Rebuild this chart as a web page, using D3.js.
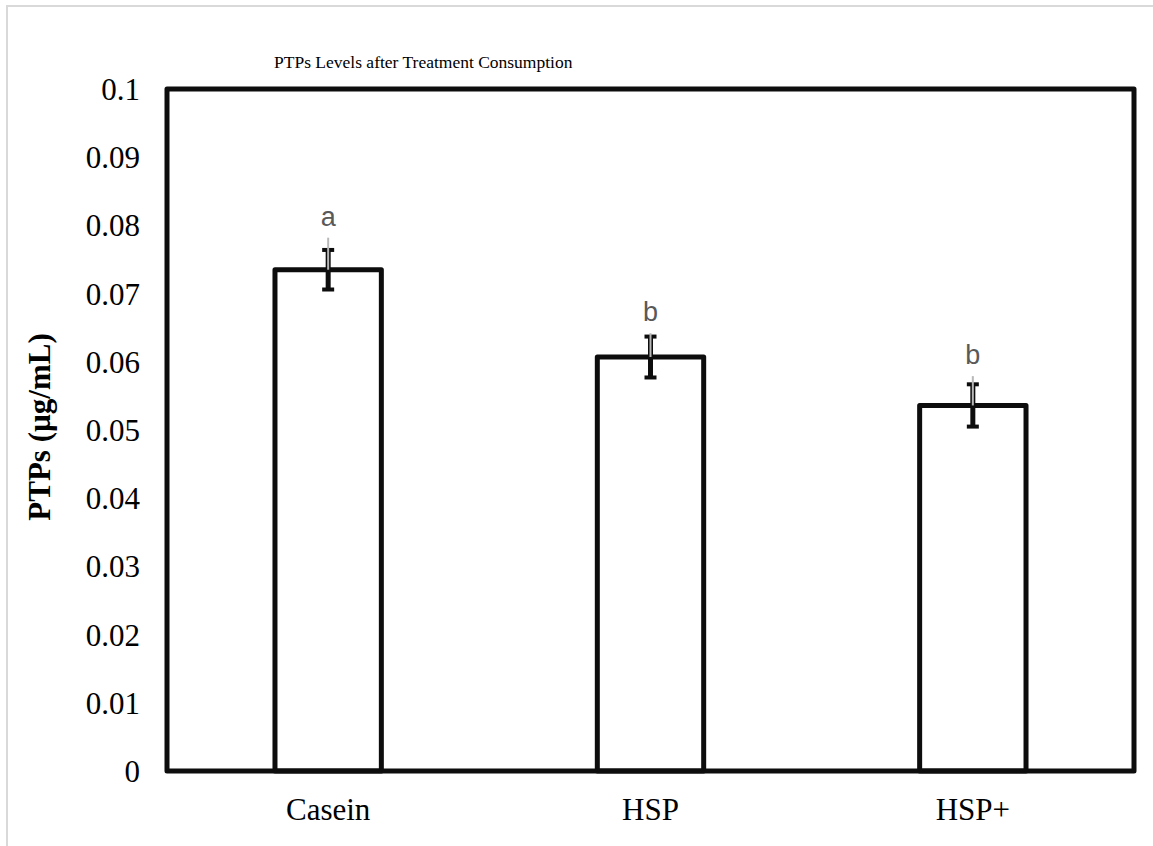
<!DOCTYPE html>
<html>
<head>
<meta charset="utf-8">
<script src="https://cdn.jsdelivr.net/npm/d3@7"></script>
<style>
  html, body { margin: 0; padding: 0; background: #fff; }
  svg { display: block; }
</style>
</head>
<body>
<svg id="chart" width="1153" height="846"></svg>
<script>
// ---- data ----
const categories = ["Casein", "HSP", "HSP+"];
const values = [0.0735, 0.0607, 0.0536];
const errors = [0.0029, 0.0030, 0.0031];
const grayErrTop = [0.0782, 0.0642, 0.0579];
const letters = ["a", "b", "b"];
const yTicks = [0, 0.01, 0.02, 0.03, 0.04, 0.05, 0.06, 0.07, 0.08, 0.09, 0.1];
const yTickLabels = ["0", "0.01", "0.02", "0.03", "0.04", "0.05", "0.06", "0.07", "0.08", "0.09", "0.1"];
const title = "PTPs Levels after Treatment Consumption";
const yTitle = "PTPs (µg/mL)";

// ---- layout ----
const svg = d3.select("#chart");
const plot = { left: 167, top: 89, right: 1134, bottom: 771 };
const serif = "'Liberation Serif', 'Times New Roman', serif";
const sans = "'Liberation Sans', Arial, sans-serif";

// outer light border
svg.append("rect")
  .attr("x", 7).attr("y", 6).attr("width", 1170).attr("height", 870)
  .attr("fill", "none").attr("stroke", "#d9d9d9").attr("stroke-width", 2);

const x = d3.scaleBand().domain(categories).range([plot.left, plot.right]).padding(0);
const y = d3.scaleLinear().domain([0, 0.1]).range([plot.bottom, plot.top]);
const barW = x.bandwidth() * 0.33;

// y axis tick labels via d3 axis
const yAxis = d3.axisLeft(y)
  .tickValues(yTicks)
  .tickFormat((d, i) => yTickLabels[i])
  .tickSize(0).tickPadding(27);
const gy = svg.append("g").attr("transform", `translate(${plot.left},0)`).call(yAxis);
gy.select(".domain").remove();
gy.selectAll("text")
  .attr("font-family", serif).attr("font-size", 31).attr("fill", "#000")
  .attr("dy", "0.34em");

// x axis labels
const xAxis = d3.axisBottom(x).tickSize(0).tickPadding(27);
const gx = svg.append("g").attr("transform", `translate(0,${plot.bottom})`).call(xAxis);
gx.select(".domain").remove();
gx.selectAll("text")
  .attr("font-family", serif).attr("font-size", 31).attr("fill", "#000");

// bars
const data = categories.map((c, i) => ({ c, v: values[i], e: errors[i], g: grayErrTop[i], l: letters[i] }));
svg.selectAll("rect.bar").data(data).enter().append("rect")
  .attr("class", "bar")
  .attr("x", d => x(d.c) + x.bandwidth() / 2 - barW / 2)
  .attr("y", d => y(d.v))
  .attr("width", barW)
  .attr("height", d => y(0) - y(d.v))
  .attr("fill", "#fff").attr("stroke", "#0d0d0d").attr("stroke-width", 5)
  .attr("stroke-linejoin", "round");

// plot frame
svg.append("rect")
  .attr("x", plot.left).attr("y", plot.top)
  .attr("width", plot.right - plot.left).attr("height", plot.bottom - plot.top)
  .attr("fill", "none").attr("stroke", "#0d0d0d").attr("stroke-width", 5)
  .attr("stroke-linejoin", "round");

// error bars
const eb = svg.selectAll("g.err").data(data).enter().append("g")
  .attr("transform", d => `translate(${x(d.c) + x.bandwidth() / 2},0)`);
eb.append("line")
  .attr("x1", 0).attr("x2", 0)
  .attr("y1", d => y(d.v + d.e)).attr("y2", d => y(d.v - d.e))
  .attr("stroke", "#0d0d0d").attr("stroke-width", 5);
eb.append("line")
  .attr("x1", -6).attr("x2", 6)
  .attr("y1", d => y(d.v + d.e)).attr("y2", d => y(d.v + d.e))
  .attr("stroke", "#0d0d0d").attr("stroke-width", 4);
eb.append("line")
  .attr("x1", -6).attr("x2", 6)
  .attr("y1", d => y(d.v - d.e)).attr("y2", d => y(d.v - d.e))
  .attr("stroke", "#0d0d0d").attr("stroke-width", 4);
eb.append("line")
  .attr("x1", 0).attr("x2", 0)
  .attr("y1", d => y(d.g)).attr("y2", d => y(d.v))
  .attr("stroke", "#b8b8b8").attr("stroke-width", 2);

// significance letters
eb.append("text")
  .attr("x", 0).attr("y", d => y(d.g) - 12)
  .attr("text-anchor", "middle")
  .attr("font-family", sans).attr("font-size", 27).attr("fill", "#595959")
  .text(d => d.l);

// title
svg.append("text")
  .attr("x", 274).attr("y", 68)
  .attr("font-family", serif).attr("font-size", 17.5).attr("fill", "#000")
  .text(title);

// y title
svg.append("text")
  .attr("transform", "translate(50,427) rotate(-90)")
  .attr("text-anchor", "middle")
  .attr("font-family", serif).attr("font-size", 31).attr("font-weight", "bold").attr("fill", "#000")
  .text(yTitle);
</script>
</body>
</html>
